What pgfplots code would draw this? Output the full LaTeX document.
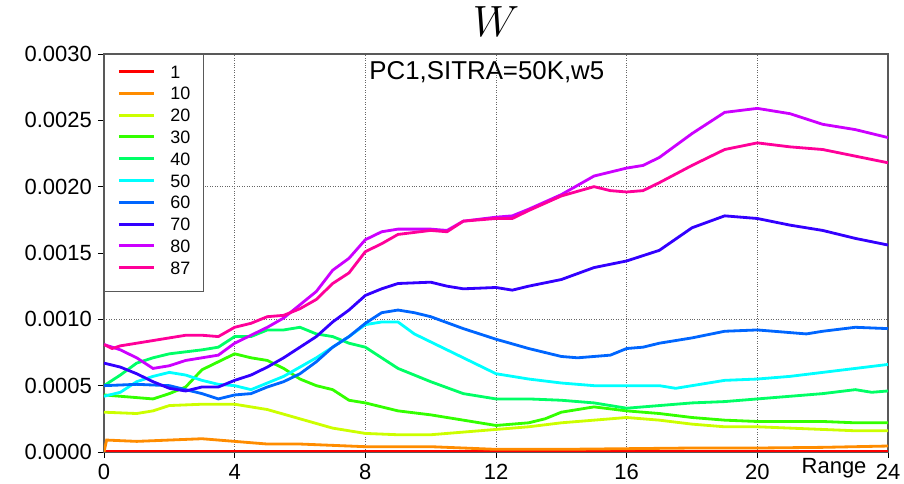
\documentclass[border=0pt]{standalone}
\usepackage{fontspec}
\setmainfont{Liberation Sans}
\usepackage{pgfplots}
\pgfplotsset{compat=1.18}
\definecolor{c1}{RGB}{255,0,0}
\definecolor{c10}{RGB}{255,140,0}
\definecolor{c20}{RGB}{204,255,0}
\definecolor{c30}{RGB}{51,255,0}
\definecolor{c40}{RGB}{0,255,102}
\definecolor{c50}{RGB}{0,255,255}
\definecolor{c60}{RGB}{0,102,255}
\definecolor{c70}{RGB}{51,0,255}
\definecolor{c80}{RGB}{204,0,255}
\definecolor{c87}{RGB}{255,0,153}
\begin{document}
\begin{tikzpicture}
\begin{axis}[
  name=ax,
  scale only axis,
  width=15.68cm, height=7.96cm,
  xmin=0, xmax=24, ymin=0, ymax=0.003,
  xtick={0,4,...,24},
  ytick={0,0.0005,0.001,0.0015,0.002,0.0025,0.003},
  scaled y ticks=false,
  yticklabel style={/pgf/number format/.cd, fixed, fixed zerofill, precision=4},
  /pgf/number format/assume math mode=true,
  tick label style={font=\fontsize{12.5}{14}\selectfont, text=black},
  tick align=outside,
  xtick pos=bottom, ytick pos=left,
  major tick length=0.12cm,
  tick style={black, line width=0.5pt},
  xmajorgrids,
  grid style={densely dotted, gray!80!black, line width=0.5pt},
  extra y ticks={0.001,0.002},
  extra y tick labels={},
  extra y tick style={grid=major, major tick length=0pt},
  extra x ticks={22.35},
  extra x tick labels={Range},
  extra x tick style={grid=none, major tick length=0pt},
  axis line style={gray!70!black, line width=0.6pt},
  every axis title shift=0pt,
  title={$W$},
  title style={at={(0.5,1)}, anchor=base, yshift=0.34cm, font=\fontsize{26}{30}\selectfont},
  legend style={at={(0,1)}, anchor=north west, draw=gray!70!black, fill=white,
    font=\fontsize{10.2}{12}\selectfont, inner xsep=0.26cm, inner ysep=5.5pt,
    row sep=0pt, column sep=0.3cm,
    nodes={inner sep=0pt, text height=8pt, text depth=4.4pt, anchor=base west}},
  legend cell align=left,
  legend image code/.code={\draw[#1, line width=1.7pt] (0cm,0.13cm) -- (0.7cm,0.13cm);},
  every axis plot/.append style={line width=1.6pt},
]
\addplot[c1] coordinates {(0,0.000006)(6,0.000006)(12,0.000006)(18,0.000006)(24,0.000006)};
\addlegendentry{1}
\addplot[c10] coordinates {(0,0.0)(0.08,0.00009)(1,0.00008)(2,0.00009)(3,0.00010)(4,0.00008)(5,0.00006)(6,0.00006)(7,0.00005)(8,0.00004)(10,0.00004)(12,0.00002)(14,0.00002)(16,0.000025)(18,0.00003)(20,0.00003)(22,0.000035)(24,0.000045)};
\addlegendentry{10}
\addplot[c20] coordinates {(0,0.00030)(1,0.00029)(1.5,0.00031)(2,0.00035)(3,0.00036)(4,0.00036)(5,0.00032)(6,0.00025)(7,0.00018)(8,0.00014)(9,0.00013)(10,0.00013)(11,0.00015)(12,0.00017)(13,0.00019)(14,0.00022)(15,0.00024)(16,0.00026)(17,0.00024)(18,0.00021)(19,0.00019)(20,0.00019)(21,0.00018)(22,0.00017)(23,0.00016)(24,0.00016)};
\addlegendentry{20}
\addplot[c30] coordinates {(0,0.00043)(1,0.00041)(1.5,0.00040)(2,0.00044)(2.5,0.00049)(3,0.00062)(3.5,0.00068)(4,0.00074)(4.5,0.00071)(5,0.00069)(5.5,0.00063)(6,0.00055)(6.5,0.00050)(7,0.00047)(7.5,0.00039)(8,0.00037)(9,0.00031)(10,0.00028)(11,0.00024)(12,0.00020)(13,0.00022)(13.5,0.00025)(14,0.00030)(15,0.00034)(16,0.00031)(17,0.00029)(18,0.00026)(19,0.00024)(20,0.00023)(21,0.00023)(22,0.00023)(23,0.00022)(24,0.00022)};
\addlegendentry{30}
\addplot[c40] coordinates {(0,0.00050)(0.5,0.00058)(1,0.00067)(1.5,0.00071)(2,0.00074)(3,0.00077)(3.5,0.00079)(4,0.00087)(4.5,0.00087)(5,0.00092)(5.5,0.00092)(6,0.00094)(6.5,0.00089)(7,0.00087)(7.5,0.00082)(8,0.00079)(8.5,0.00071)(9,0.00063)(10,0.00053)(11,0.00044)(12,0.00040)(13,0.00040)(14,0.00039)(15,0.00037)(16,0.00033)(17,0.00035)(18,0.00037)(19,0.00038)(20,0.00040)(21,0.00042)(22,0.00044)(23,0.00047)(23.5,0.00045)(24,0.00046)};
\addlegendentry{40}
\addplot[c50] coordinates {(0,0.00042)(0.5,0.00045)(1,0.00053)(1.5,0.00057)(2,0.00060)(2.5,0.00058)(3,0.00054)(3.5,0.00051)(4,0.00050)(4.5,0.00047)(5,0.00052)(5.5,0.00057)(6,0.00064)(6.5,0.00071)(7,0.00079)(7.5,0.00087)(8,0.00096)(8.5,0.00098)(9,0.00098)(9.5,0.00089)(10,0.00083)(11,0.00071)(12,0.00059)(13,0.00055)(14,0.00052)(15,0.00050)(16,0.00050)(17,0.00050)(17.5,0.00048)(18,0.00050)(19,0.00054)(20,0.00055)(21,0.00057)(22,0.00060)(23,0.00063)(24,0.00066)};
\addlegendentry{50}
\addplot[c60] coordinates {(0,0.00050)(1,0.00051)(2,0.00050)(2.5,0.00047)(3,0.00044)(3.5,0.00040)(4,0.00043)(4.5,0.00044)(5,0.00049)(5.5,0.00053)(6,0.00059)(6.5,0.00068)(7,0.00079)(7.5,0.00087)(8,0.00097)(8.5,0.00105)(9,0.00107)(9.5,0.00105)(10,0.00102)(11,0.00093)(12,0.00085)(13,0.00078)(14,0.00072)(14.5,0.00071)(15,0.00072)(15.5,0.00073)(16,0.00078)(16.5,0.00079)(17,0.00082)(18,0.00086)(19,0.00091)(20,0.00092)(21,0.00090)(21.5,0.00089)(22,0.00091)(23,0.00094)(24,0.00093)};
\addlegendentry{60}
\addplot[c70] coordinates {(0,0.00067)(0.5,0.00064)(1,0.00059)(1.5,0.00053)(2,0.00048)(2.5,0.00046)(3,0.00049)(3.5,0.00049)(4,0.00054)(4.5,0.00058)(5,0.00064)(5.5,0.00071)(6,0.00079)(6.5,0.00087)(7,0.00098)(7.5,0.00107)(8,0.00118)(8.5,0.00123)(9,0.00127)(10,0.00128)(10.5,0.00125)(11,0.00123)(12,0.00124)(12.5,0.00122)(13,0.00125)(14,0.00130)(15,0.00139)(16,0.00144)(17,0.00152)(18,0.00169)(19,0.00178)(20,0.00176)(21,0.00171)(22,0.00167)(23,0.00161)(24,0.00156)};
\addlegendentry{70}
\addplot[c80] coordinates {(0,0.00081)(0.5,0.00077)(1,0.00071)(1.5,0.00063)(2,0.00065)(2.5,0.00069)(3,0.00071)(3.5,0.00073)(4,0.00082)(4.5,0.00088)(5,0.00094)(5.5,0.00101)(6,0.00111)(6.5,0.00121)(7,0.00137)(7.5,0.00146)(8,0.00160)(8.5,0.00166)(9,0.00168)(10,0.00168)(10.5,0.00167)(11,0.00174)(12,0.00177)(12.5,0.00178)(13,0.00183)(14,0.00194)(15,0.00208)(16,0.00214)(16.5,0.00216)(17,0.00222)(18,0.00240)(19,0.00256)(20,0.00259)(21,0.00255)(22,0.00247)(23,0.00243)(24,0.00237)};
\addlegendentry{80}
\addplot[c87] coordinates {(0,0.00081)(0.25,0.00078)(0.5,0.00080)(1,0.00082)(1.5,0.00084)(2,0.00086)(2.5,0.00088)(3,0.00088)(3.5,0.00087)(4,0.00094)(4.5,0.00097)(5,0.00102)(5.5,0.00103)(6,0.00108)(6.5,0.00115)(7,0.00127)(7.5,0.00135)(8,0.00151)(8.5,0.00157)(9,0.00164)(10,0.00167)(10.5,0.00166)(11,0.00174)(12,0.00176)(12.5,0.00176)(13,0.00182)(14,0.00193)(15,0.00200)(15.5,0.00197)(16,0.00196)(16.5,0.00197)(17,0.00203)(18,0.00216)(19,0.00228)(20,0.00233)(21,0.00230)(22,0.00228)(23,0.00223)(24,0.00218)};
\addlegendentry{87}
\node[font=\fontsize{14.7}{17}\selectfont, anchor=center] at (axis cs:11.72,0.00286) {PC1,SITRA=50K,w5};
\end{axis}
\pgfresetboundingbox
\path[use as bounding box] ([shift={(-2.08cm,-0.64cm)}]ax.south west) rectangle ([shift={(0.32cm,1.08cm)}]ax.north east);
\end{tikzpicture}
\end{document}
